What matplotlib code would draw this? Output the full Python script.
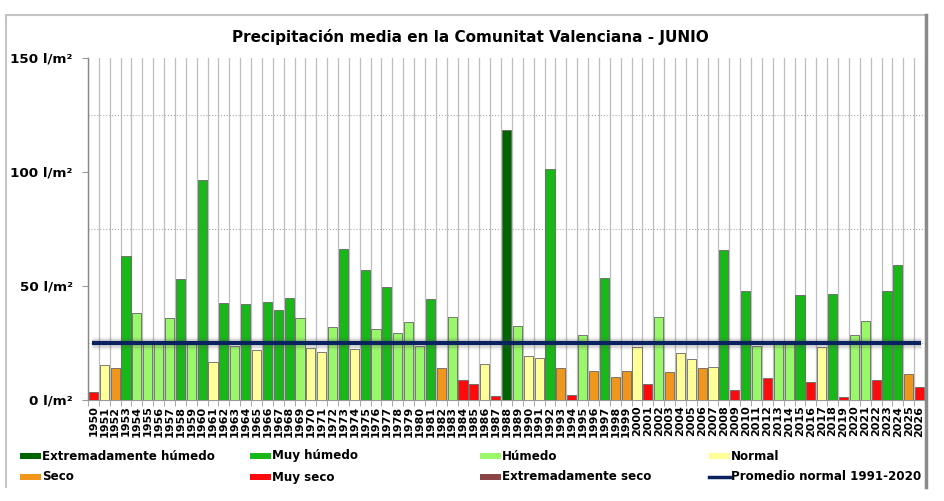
import matplotlib
matplotlib.use("Agg")
import matplotlib.pyplot as plt
from matplotlib.patches import Rectangle
from matplotlib.lines import Line2D
import numpy as np

plt.rcParams['font.family'] = ['DejaVu Sans']

years = list(range(1950, 2027))
values = [3.5, 15.2, 13.9, 63.2, 38.0, 25.5, 25.5, 35.9, 53.1, 25.5,
          96.4, 16.5, 42.7, 23.7, 42.2, 21.8, 43.2, 39.5, 44.9, 35.9,
          22.7, 20.9, 31.9, 66.2, 22.5, 57.2, 31.0, 49.6, 29.3, 34.1,
          23.7, 44.3, 13.9, 36.3, 8.9, 7.0, 15.8, 1.9, 118.5, 32.3,
          19.3, 18.3, 101.1, 13.9, 2.2, 28.4, 12.6, 53.3, 10.0, 12.6,
          23.1, 6.9, 36.3, 12.1, 20.5, 17.9, 13.9, 14.3, 65.6, 4.2,
          48.0, 23.6, 9.7, 25.5, 25.5, 46.1, 7.9, 23.3, 46.7, 1.3,
          28.4, 34.5, 8.8, 48.0, 59.0, 11.3, 5.6]
categories = ['MS', 'N', 'S', 'MH', 'H', 'H', 'H', 'H', 'MH', 'H',
              'MH', 'N', 'MH', 'H', 'MH', 'N', 'MH', 'MH', 'MH', 'H',
              'N', 'N', 'H', 'MH', 'N', 'MH', 'H', 'MH', 'H', 'H',
              'H', 'MH', 'S', 'H', 'MS', 'MS', 'N', 'MS', 'EH', 'H',
              'N', 'N', 'MH', 'S', 'MS', 'H', 'S', 'MH', 'S', 'S',
              'N', 'MS', 'H', 'S', 'N', 'N', 'S', 'N', 'MH', 'MS',
              'MH', 'H', 'MS', 'H', 'H', 'MH', 'MS', 'N', 'MH', 'MS',
              'H', 'H', 'MS', 'MH', 'MH', 'S', 'MS']
mean_normal = 25.2

cat_codes = ['EH', 'MH', 'H', 'N', 'S', 'MS', 'ES']
cat_labels = ['Extremadamente húmedo', 'Muy húmedo', 'Húmedo', 'Normal',
              'Seco', 'Muy seco', 'Extremadamente seco']
cat_colors = ['#006400', '#17b817', '#99f86a', '#ffff99',
              '#f0961a', '#ff0a0a', '#8b4545']
mean_label = 'Promedio normal 1991-2020'
mean_color = '#0a2260'

yticks = [0, 50, 100, 150]
ytick_labels = ['0 l/m²', '50 l/m²', '100 l/m²', '150 l/m²']
title = 'Precipitación media en la Comunitat Valenciana - JUNIO'

color_map = dict(zip(cat_codes, cat_colors))

fig = plt.figure(figsize=(9.45, 5.01), dpi=100)
ax = fig.add_axes([88/945, 1-400/501, (925-88)/945, (400-58)/501])

x = np.arange(len(years))
ax.bar(x, values, width=0.84, color=[color_map[c] for c in categories],
       edgecolor='#666666', linewidth=0.6, zorder=3)

# mean line with soft shadow
for lw, a in [(9, 0.08), (6.5, 0.15)]:
    ax.axhline(mean_normal, xmin=0.005, xmax=0.995, color='#555555', alpha=a,
               linewidth=lw, zorder=4, solid_capstyle='butt')
ax.axhline(mean_normal, xmin=0.005, xmax=0.995, color=mean_color,
           linewidth=3, zorder=5, solid_capstyle='butt')

ax.set_xlim(-0.5, len(years) - 0.5)
ax.set_ylim(0, 150)

ax.set_xticks(x)
ax.set_xticklabels([str(y) for y in years], rotation=90, fontsize=8,
                   fontweight='bold')
ax.tick_params(axis='x', which='major', length=0, pad=4)
ax.set_xticks(np.arange(-0.5, len(years) + 0.5, 1), minor=True)
ax.tick_params(axis='x', which='minor', length=4, color='#999999')
ax.xaxis.grid(True, which='minor', color='#bdbdbd', linewidth=0.9, zorder=0)

ax.set_yticks(yticks)
ax.set_yticklabels(ytick_labels, fontsize=9.7, fontweight='bold')
ax.set_yticks(np.arange(0, 151, 25), minor=True)
ax.tick_params(axis='y', which='major', length=4, color='#999999', pad=7)
ax.tick_params(axis='y', which='minor', length=0)
ax.yaxis.grid(True, which='minor', color='#aaaaaa', linewidth=0.8,
              linestyle=':', zorder=0)
ax.set_axisbelow(True)

for s in ['top', 'right']:
    ax.spines[s].set_visible(False)
ax.spines['left'].set_color('#888888')
ax.spines['bottom'].set_color('#999999')
ax.spines['left'].set_linewidth(1.0)
ax.spines['bottom'].set_linewidth(0.8)

fig.text(470/945, 1-37/501, title, ha='center', va='center',
         fontsize=11, fontweight='bold')

# frame
fig.add_artist(Line2D([6/945, 926/945], [1-15/501, 1-15/501],
                      color='#c4c4c4', linewidth=1.5))
fig.add_artist(Line2D([6/945, 6/945], [1-15/501, 1-487/501],
                      color='#c4c4c4', linewidth=1.5))
fig.add_artist(Line2D([926/945, 926/945], [1-15/501, 1-487/501],
                      color='#8a8a8a', linewidth=2.5))

# legend
col_x = [20, 250, 480, 709]
row_y = [456, 477]
items = list(zip(cat_labels, cat_colors)) + [(mean_label, None)]
for i, (lab, col) in enumerate(items):
    cx = col_x[i % 4]
    cy = row_y[i // 4]
    if col is not None:
        fig.add_artist(Rectangle((cx/945, 1-(cy+3)/501), 21/945, 6/501,
                                 transform=fig.transFigure, facecolor=col,
                                 edgecolor='none'))
    else:
        fig.add_artist(Line2D([cx/945, (cx+21)/945], [1-cy/501, 1-cy/501],
                              color=mean_color, linewidth=2.5))
    fig.text((cx+22)/945, 1-cy/501, lab, ha='left', va='center',
             fontsize=8.6, fontweight='bold')

fig.savefig('out.png', dpi=100)
